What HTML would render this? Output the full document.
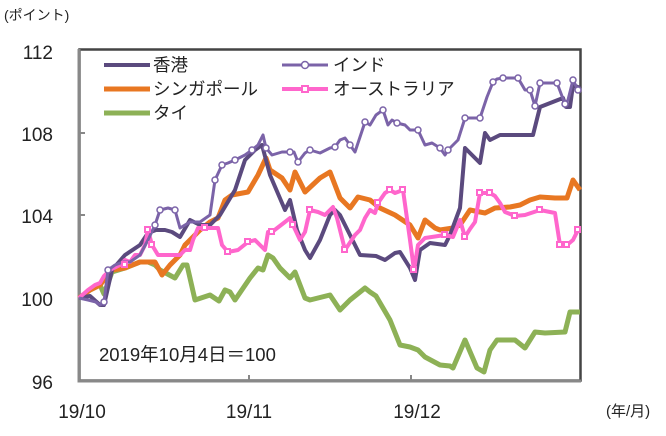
<!DOCTYPE html>
<html><head><meta charset="utf-8"><style>
html,body{margin:0;padding:0;background:#fff;}
svg text{font-family:"Liberation Sans","Noto Sans CJK JP",sans-serif;fill:#222;}
</style></head><body>
<svg width="666" height="431" viewBox="0 0 666 431" xmlns="http://www.w3.org/2000/svg">
<text x="4" y="20" font-size="14">(ポイント)</text>
<text x="606" y="416" font-size="15">(年/月)</text>
<g font-size="19" text-anchor="end">
<text x="53" y="59">112</text><text x="53" y="141">108</text><text x="53" y="223">104</text><text x="53" y="306">100</text><text x="53" y="389">96</text>
</g>
<g font-size="19" text-anchor="middle">
<text x="82" y="418">19/10</text><text x="249" y="418">19/11</text><text x="417" y="418">19/12</text>
</g>
<rect x="79.5" y="49.5" width="501" height="331" fill="none" stroke="#444" stroke-width="2.5"/>
<path d="M79 49V381H581" fill="none" stroke="#888" stroke-width="3"/>
<path d="M79 133h6M79 215h6M79 298h6M249 381v-6M411 381v-6" stroke="#888" stroke-width="2"/>
<text x="99" y="361" font-size="18.5">2019年10月4日＝100</text>
<g fill="none" stroke-linejoin="round" stroke-width="4">
<polyline stroke="#8db156" stroke-width="5" points="79,298 90,290 100,285 104,294 112,272 125,268 140,262 148,262 155,265 160,270 175,278 183,265 187,265 195,300 210,295 219,301 225,290 230,292 235,300 250,278 258,268 263,270 268,255 273,258 280,268 290,278 295,272 305,298 310,300 330,295 340,310 350,300 365,288 370,292 376,296 390,320 400,345 410,347 418,350 425,357 440,365 450,366 453,368 465,340 477,368 484,372 490,350 497,340 515,340 525,348 535,332 545,333 565,332 570,312 580,312"/>
<polyline stroke="#e87722" stroke-width="5" points="79,298 90,290 100,285 112,270 125,268 140,262 155,262 162,275 170,265 180,255 185,245 192,238 200,230 210,222 218,218 225,200 232,195 248,192 258,175 266,158 270,170 282,178 290,190 295,172 305,192 320,178 330,172 340,198 350,208 358,197 370,200 380,208 395,215 410,225 418,238 425,220 435,228 440,230 453,228 460,225 470,210 485,213 495,208 510,207 520,205 530,200 540,197 555,198 567,198 573,180 580,190"/>
<polyline stroke="#5b4a7e" points="79,298 90,296 100,305 104,305 112,270 125,255 140,245 148,233 156,230 165,230 172,232 180,237 190,220 200,225 210,225 220,215 235,190 245,160 255,150 262,145 270,175 285,210 290,200 297,230 305,250 310,258 320,240 330,215 335,210 340,215 350,235 360,255 376,256 385,260 395,253 400,252 410,268 415,280 420,250 430,243 445,245 450,235 460,208 465,148 480,163 485,133 490,140 500,135 533,135 540,107 563,98 566,107 570,107 573,85 580,88"/>
<polyline stroke="#ff66cc" points="79,298 88,290 95,285 100,283 104,276 110,270 120,265 125,260 130,262 135,255 140,255 145,245 148,230 152,245 158,255 165,255 175,255 180,255 185,250 190,250 193,240 198,228 205,228 215,228 218,228 222,245 228,252 238,250 248,242 255,240 265,250 268,232 272,232 285,222 290,218 293,225 300,240 305,232 310,210 318,212 325,215 333,207 337,218 345,250 355,235 360,230 365,218 370,210 375,213 378,203 385,193 390,190 395,193 403,190 410,240 414,270 418,245 425,238 445,235 453,237 460,220 465,237 470,229 475,222 480,193 490,193 495,196 500,203 505,212 515,216 525,215 540,210 555,213 560,245 567,245 573,240 578,230"/>
<polyline stroke="#7b63a8" stroke-width="3" points="79,298 88,300 96,302 100,305 104,302 108,270 115,265 123,262 130,262 140,255 148,240 155,225 160,210 168,208 175,210 180,228 190,222 200,222 210,215 215,180 222,165 228,163 235,160 245,155 252,150 258,145 263,135 266,148 272,155 282,152 290,152 294,152 298,162 305,153 310,150 320,153 330,148 335,147 340,140 345,138 350,145 355,152 365,122 370,125 376,115 383,110 388,125 392,120 397,123 405,125 410,130 418,130 425,145 432,143 440,148 445,155 448,150 458,140 465,118 480,118 487,97 493,82 497,79 503,78 518,78 525,90 530,90 535,106 540,83 557,83 565,104 568,100 573,80 578,90"/>
</g>
<g fill="#fff" stroke="#ff66cc" stroke-width="2">
<rect x="122" y="262" width="5" height="5"/><rect x="145" y="227" width="5" height="5"/><rect x="149" y="242" width="5" height="5"/><rect x="202" y="225" width="5" height="5"/><rect x="225" y="249" width="5" height="5"/><rect x="245" y="239" width="5" height="5"/><rect x="269" y="229" width="5" height="5"/><rect x="290" y="222" width="5" height="5"/><rect x="307" y="207" width="5" height="5"/><rect x="342" y="247" width="5" height="5"/><rect x="375" y="200" width="5" height="5"/><rect x="387" y="187" width="5" height="5"/><rect x="400" y="187" width="5" height="5"/><rect x="411" y="267" width="5" height="5"/><rect x="442" y="232" width="5" height="5"/><rect x="462" y="234" width="5" height="5"/><rect x="477" y="190" width="5" height="5"/><rect x="487" y="190" width="5" height="5"/><rect x="512" y="213" width="5" height="5"/><rect x="537" y="207" width="5" height="5"/><rect x="557" y="242" width="5" height="5"/><rect x="564" y="242" width="5" height="5"/><rect x="575" y="227" width="5" height="5"/>
</g>
<g fill="#fff" stroke="#7b63a8" stroke-width="1.5">
<circle cx="104" cy="302" r="3"/><circle cx="108" cy="270" r="3"/><circle cx="155" cy="225" r="3"/><circle cx="160" cy="210" r="3"/><circle cx="175" cy="210" r="3"/><circle cx="215" cy="180" r="3"/><circle cx="222" cy="165" r="3"/><circle cx="235" cy="160" r="3"/><circle cx="252" cy="150" r="3"/><circle cx="266" cy="148" r="3"/><circle cx="290" cy="152" r="3"/><circle cx="298" cy="162" r="3"/><circle cx="310" cy="150" r="3"/><circle cx="335" cy="147" r="3"/><circle cx="350" cy="145" r="3"/><circle cx="365" cy="122" r="3"/><circle cx="383" cy="110" r="3"/><circle cx="397" cy="123" r="3"/><circle cx="418" cy="130" r="3"/><circle cx="440" cy="148" r="3"/><circle cx="448" cy="150" r="3"/><circle cx="465" cy="118" r="3"/><circle cx="480" cy="118" r="3"/><circle cx="493" cy="82" r="3"/><circle cx="503" cy="78" r="3"/><circle cx="518" cy="78" r="3"/><circle cx="530" cy="90" r="3"/><circle cx="535" cy="106" r="3"/><circle cx="540" cy="83" r="3"/><circle cx="557" cy="83" r="3"/><circle cx="565" cy="104" r="3"/><circle cx="573" cy="80" r="3"/><circle cx="578" cy="90" r="3"/>
</g>
<g font-size="17.5">
<line x1="104" y1="65" x2="150" y2="65" stroke="#5b4a7e" stroke-width="4"/><text x="153" y="71">香港</text>
<line x1="104" y1="89" x2="150" y2="89" stroke="#e87722" stroke-width="5"/><text x="153" y="95">シンガポール</text>
<line x1="104" y1="113" x2="150" y2="113" stroke="#8db156" stroke-width="5"/><text x="153" y="119">タイ</text>
<line x1="282" y1="65" x2="328" y2="65" stroke="#7b63a8" stroke-width="3"/><circle cx="305" cy="65" r="3.5" fill="#fff" stroke="#7b63a8" stroke-width="1.5"/><text x="333" y="71">インド</text>
<line x1="282" y1="89" x2="328" y2="89" stroke="#ff66cc" stroke-width="4"/><rect x="302" y="86" width="6" height="6" fill="#fff" stroke="#ff66cc" stroke-width="2"/><text x="333" y="95">オーストラリア</text>
</g>
</svg>
</body></html>
